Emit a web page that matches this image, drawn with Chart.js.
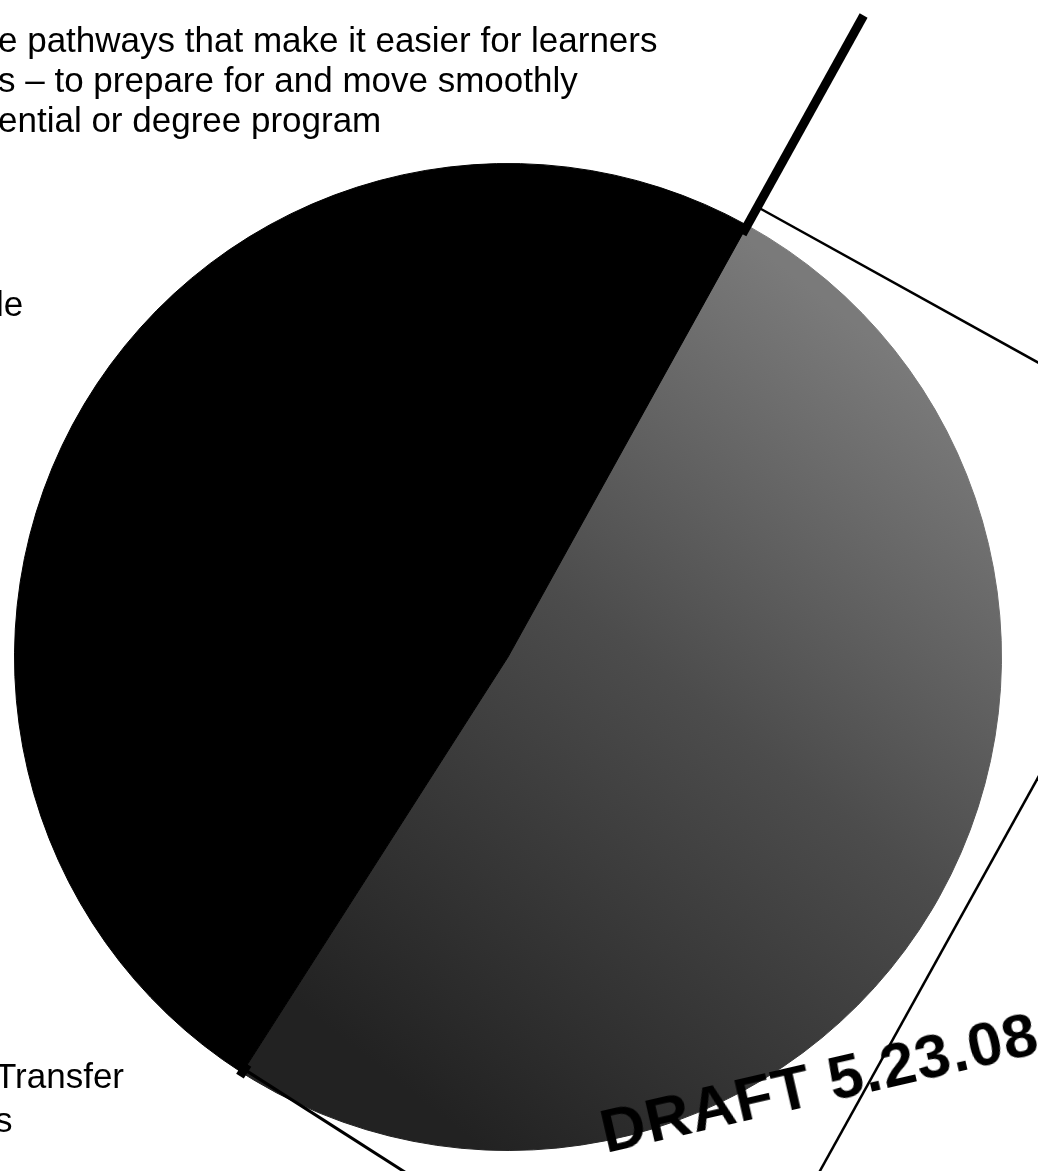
<!DOCTYPE html>
<html>
<head>
<meta charset="utf-8">
<script src="https://cdn.jsdelivr.net/npm/chart.js@4"></script>
<style>
  body { margin: 0; background: #fff; overflow: hidden; }
  #wrap { position: relative; width: 1038px; height: 1171px; overflow: hidden; }
  canvas { position: absolute; left: 0; top: 0; }
  .txt { position: absolute; font-family: Arial, "Liberation Sans", sans-serif; color: #000; white-space: nowrap; }
</style>
</head>
<body>
<div id="wrap">
  <canvas id="grafico" width="1038" height="1171"></canvas>
  <div class="txt" style="left:-2px; top:20px; font-size:35px; line-height:40px;">e pathways that make it easier for learners<br>s – to prepare for and move smoothly<br>ential or degree program</div>
  <div class="txt" style="left:-4px; top:286px; font-size:35px; line-height:35px;">le</div>
  <div class="txt" style="left:-5px; top:1054px; font-size:35px; line-height:44px;">Transfer<br>s</div>
  <div class="txt" style="left:606px; top:1102px; font-size:62px; line-height:60px; font-weight:bold; letter-spacing:1px; transform-origin:0 51px; transform:rotate(-13deg);">DRAFT 5.23.08</div>
</div>
<script>
// dados do grafico
const categorias = ["Segmento cinza", "Segmento preto"];
const valores = [51, 49];

// linhas extras da folha escaneada (prolongamento das divisoes e moldura)
const linhasExtras = {
  id: "linhasExtras",
  afterDatasetsDraw(chart) {
    const arco = chart.getDatasetMeta(0).data[0];
    const cx = arco.x, cy = arco.y, r = arco.outerRadius;
    const a1 = arco.startAngle, a2 = arco.endAngle;
    const ctx = chart.ctx;
    const u = [Math.cos(a1), Math.sin(a1)];
    const n = [Math.cos(a1 + Math.PI / 2), Math.sin(a1 + Math.PI / 2)];
    const v = [Math.cos(a2), Math.sin(a2)];
    const m = [Math.cos(a2 - Math.PI / 2), Math.sin(a2 - Math.PI / 2)];
    ctx.save();
    ctx.strokeStyle = "#000";
    ctx.lineCap = "butt";

    // linha grossa saindo da divisao superior
    ctx.lineWidth = 9;
    ctx.beginPath();
    ctx.moveTo(cx + u[0] * (r - 10), cy + u[1] * (r - 10));
    ctx.lineTo(cx + u[0] * (r + 240), cy + u[1] * (r + 240));
    ctx.stroke();
    // pedacinho na divisao de baixo
    ctx.beginPath();
    ctx.moveTo(cx + v[0] * (r - 10), cy + v[1] * (r - 10));
    ctx.lineTo(cx + v[0] * (r + 4), cy + v[1] * (r + 4));
    ctx.stroke();

    // moldura fina
    ctx.lineWidth = 2.5;
    const p1 = [cx + u[0] * (r + 21), cy + u[1] * (r + 21)];
    ctx.beginPath();
    ctx.moveTo(p1[0], p1[1]);
    ctx.lineTo(p1[0] + n[0] * 600, p1[1] + n[1] * 600);
    ctx.stroke();

    const d = 522;
    ctx.beginPath();
    ctx.moveTo(cx + n[0] * d + u[0] * 900, cy + n[1] * d + u[1] * 900);
    ctx.lineTo(cx + n[0] * d - u[0] * 900, cy + n[1] * d - u[1] * 900);
    ctx.stroke();

    ctx.lineWidth = 3;
    const p3 = [cx + v[0] * (r - 4), cy + v[1] * (r - 4)];
    ctx.beginPath();
    ctx.moveTo(p3[0], p3[1]);
    ctx.lineTo(p3[0] + m[0] * 400, p3[1] + m[1] * 400);
    ctx.stroke();
    ctx.restore();
  }
};

function corFatia(context) {
  if (context.dataIndex !== 0) return "#000000";
  const chart = context.chart;
  const area = chart.chartArea;
  if (!area) return "#444444";
  const w = area.right - area.left, h = area.bottom - area.top;
  const g = chart.ctx.createLinearGradient(area.left + 0.9 * w, area.top + 0.2 * h, area.left + 0.35 * w, area.top + 0.9 * h);
  g.addColorStop(0, "#7a7a7a");
  g.addColorStop(0.45, "#4c4c4c");
  g.addColorStop(1, "#222222");
  return g;
}

var ctx = document.getElementById("grafico").getContext("2d");
var chart = new Chart(ctx, {
  type: "pie",
  data: {
    labels: categorias,
    datasets: [
      {
        data: valores,
        backgroundColor: corFatia,
        borderColor: corFatia,
        borderWidth: 1,
      },
    ],
  },
  options: {
    responsive: false,
    animation: false,
    rotation: 29,
    layout: { padding: { left: 14, right: 36, top: 163, bottom: 20 } },
    plugins: { legend: { display: false }, tooltip: { enabled: false } },
  },
  plugins: [linhasExtras],
});
</script>
</body>
</html>
